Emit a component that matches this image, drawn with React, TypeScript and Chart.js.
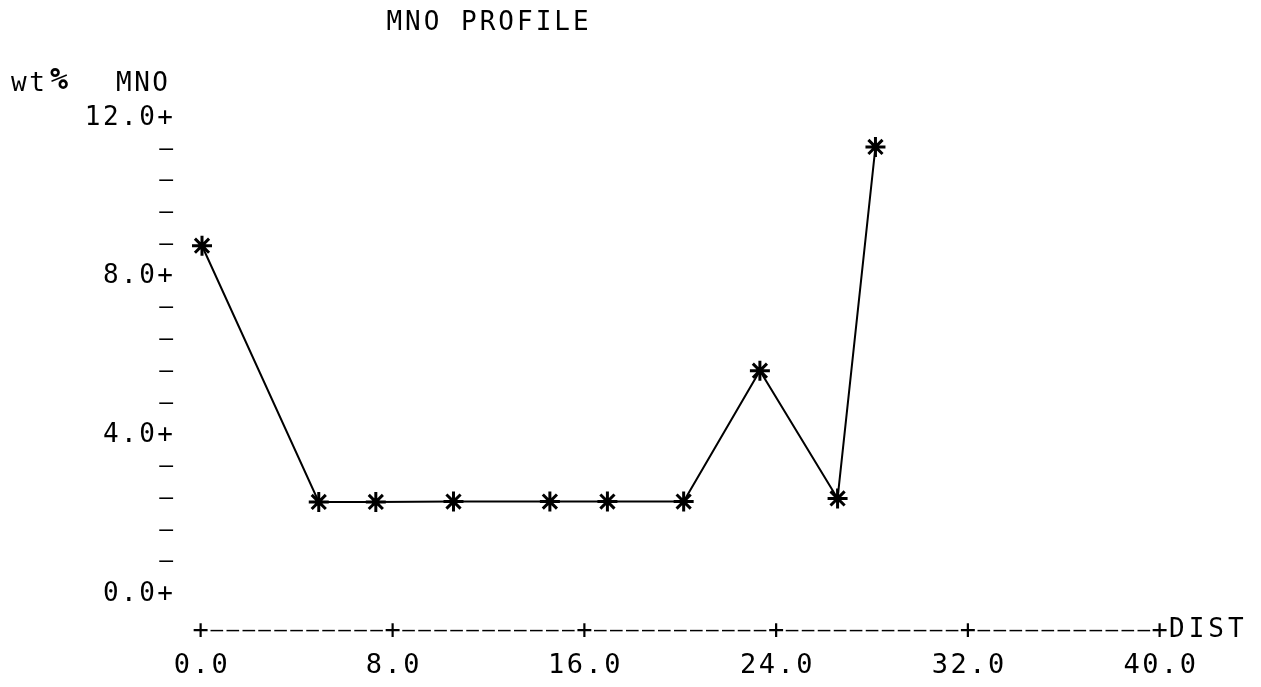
import React, { useEffect, useRef } from "react";
import { Chart, registerables } from "chart.js";

Chart.register(...registerables);

const TITLE = "MNO PROFILE";
const Y_UNIT = "wt";
const Y_NAME = "MNO";
const X_NAME = "DIST";

const distances = [0, 4.87, 7.25, 10.49, 14.51, 16.91, 20.09, 23.27, 26.51, 28.09];
const mnoValues = [8.78, 2.32, 2.32, 2.33, 2.33, 2.33, 2.33, 5.63, 2.41, 11.27];

const xTickLabels = ["0.0", "8.0", "16.0", "24.0", "32.0", "40.0"];
const yTickLabels = ["0.0", "4.0", "8.0", "12.0"];

const X_MIN = 0;
const X_MAX = 40;
const Y_MIN = 0;
const Y_MAX = 12;
const X_SUBDIV = 12; // character cells between major x ticks
const Y_SUBDIV = 5; // intervals between major y ticks

const FONT = "'DejaVu Sans Mono', 'Liberation Mono', monospace";
const SPACING = "2.5px";

const spacingPlugin = {
  id: "letterSpacing",
  beforeUpdate(chart: any) {
    chart.ctx.letterSpacing = SPACING;
  },
  beforeLayout(chart: any) {
    chart.ctx.letterSpacing = SPACING;
  },
  beforeDraw(chart: any) {
    chart.ctx.letterSpacing = SPACING;
  },
};

const textPlugin = {
  id: "plotText",
  afterDraw(chart: any) {
    const ctx = chart.ctx;
    ctx.save();
    ctx.fillStyle = "#000";
    ctx.textBaseline = "middle";
    ctx.letterSpacing = "3px";
    ctx.font = `26px ${FONT}`;
    ctx.textAlign = "center";
    ctx.fillText(TITLE, 489, 23);
    ctx.letterSpacing = SPACING;
    ctx.textAlign = "left";
    ctx.font = `26px ${FONT}`;
    ctx.fillText(Y_UNIT, 11, 84);
    ctx.font = `bold 30px ${FONT}`;
    ctx.fillText("%", 50, 81);
    ctx.font = `26px ${FONT}`;
    ctx.fillText(Y_NAME, 116, 84);
    const xs = chart.scales.x;
    ctx.letterSpacing = "4px";
    ctx.fillText(X_NAME, xs.getPixelForValue(X_MAX) + 8, chart.chartArea.bottom + 36);
    ctx.restore();
  },
};

export default function App() {
  const ref = useRef<HTMLCanvasElement | null>(null);

  useEffect(() => {
    if (!ref.current) return;
    const points = distances.map((d, i) => ({ x: d, y: mnoValues[i] }));
    const chart = new Chart(ref.current, {
      type: "line",
      data: {
        datasets: [
          {
            data: points,
            borderColor: "#000",
            borderWidth: 2,
            pointStyle: "star",
            pointRadius: 10,
            pointBorderWidth: 3,
            pointBorderColor: "#000",
            pointBackgroundColor: "#000",
            tension: 0,
            clip: false,
          },
        ],
      },
      options: {
        animation: false,
        responsive: false,
        devicePixelRatio: 1,
        layout: { padding: { left: 0, right: 100, top: 118, bottom: 0 } },
        plugins: {
          legend: { display: false },
          tooltip: { enabled: false },
          title: { display: false },
        },
        scales: {
          x: {
            type: "linear",
            min: X_MIN,
            max: X_MAX,
            grid: { display: false, drawTicks: false },
            border: { display: false },
            afterFit: (s: any) => {
              s.height = 93;
            },
            ticks: {
              stepSize: (X_MAX - X_MIN) / (xTickLabels.length - 1) / X_SUBDIV,
              autoSkip: false,
              maxRotation: 0,
              minRotation: 0,
              padding: 19,
              color: "#000",
              font: (c: any) =>
                c.index % X_SUBDIV === 0
                  ? { family: FONT, size: 27, lineHeight: "35px" }
                  : { family: FONT, size: 21, lineHeight: "35px" },
              callback: (_v: any, i: number) => {
                if (i % X_SUBDIV === 0) {
                  return ["+", xTickLabels[i / X_SUBDIV] ?? ""];
                }
                return ["–", ""];
              },
            },
          },
          y: {
            type: "linear",
            min: Y_MIN,
            max: Y_MAX,
            grid: { display: false, drawTicks: false },
            border: { display: false },
            afterFit: (s: any) => {
              s.width = 202;
            },
            ticks: {
              stepSize: (Y_MAX - Y_MIN) / (yTickLabels.length - 1) / Y_SUBDIV,
              autoSkip: false,
              padding: 26.5,
              color: "#000",
              font: (c: any) =>
                c.index % Y_SUBDIV === 0 ? { family: FONT, size: 26 } : { family: FONT, size: 23 },
              callback: (_v: any, i: number) => {
                if (i % Y_SUBDIV === 0) {
                  return (yTickLabels[i / Y_SUBDIV] ?? "") + "+";
                }
                return "–";
              },
            },
          },
        },
      },
      plugins: [spacingPlugin, textPlugin],
    } as any);
    return () => chart.destroy();
  }, []);

  return (
    <div
      style={{
        position: "fixed",
        left: 0,
        top: 0,
        width: 1261,
        height: 687,
        background: "#fff",
      }}
    >
      <canvas ref={ref} width={1261} height={687} style={{ display: "block" }} />
    </div>
  );
}
